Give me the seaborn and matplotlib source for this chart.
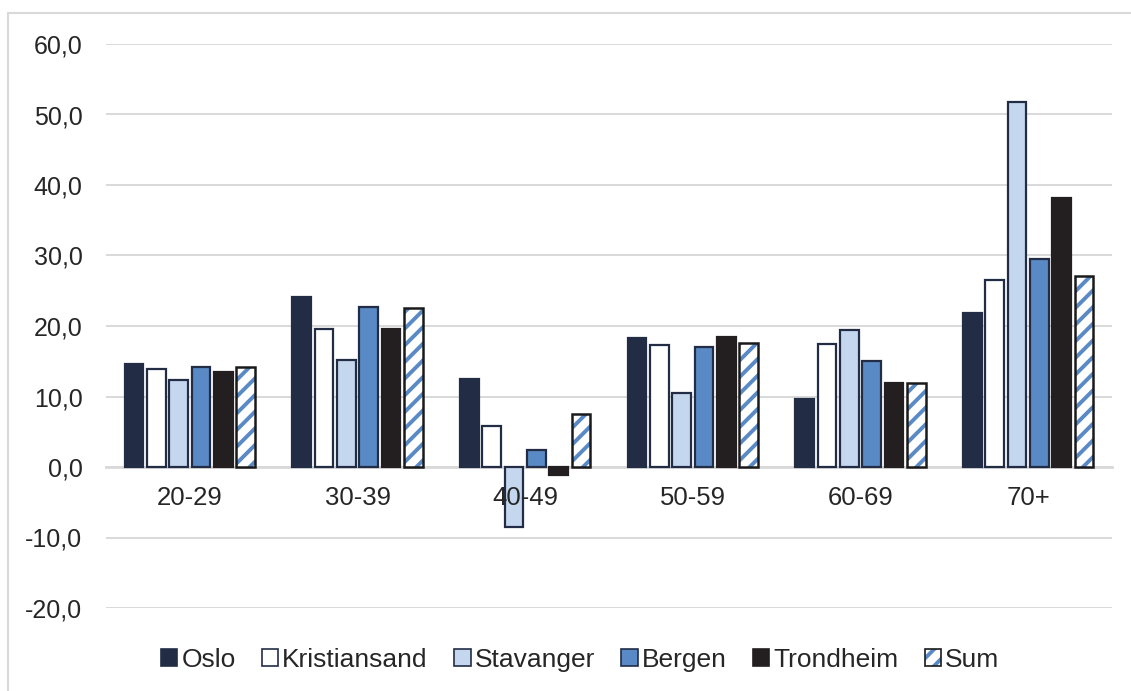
import matplotlib
matplotlib.use("Agg")
import matplotlib.pyplot as plt
from matplotlib.patches import Rectangle, Patch
from matplotlib.ticker import FuncFormatter
import seaborn as sns
import pandas as pd

# Age groups and cities
age_groups = ["20-29", "30-39", "40-49", "50-59", "60-69", "70+"]
cities = ["Oslo", "Kristiansand", "Stavanger", "Bergen", "Trondheim", "Sum"]

# Percentage change per age group for each city
oslo = [14.6, 24.1, 12.5, 18.3, 9.6, 21.8]
kristiansand = [13.9, 19.6, 5.8, 17.3, 17.4, 26.5]
stavanger = [12.3, 15.2, -8.5, 10.5, 19.4, 51.8]
bergen = [14.2, 22.7, 2.4, 17.0, 15.0, 29.5]
trondheim = [13.5, 19.6, -1.1, 18.4, 11.9, 38.2]
total = [14.2, 22.5, 7.5, 17.6, 11.9, 27.1]

series = [oslo, kristiansand, stavanger, bergen, trondheim, total]
rows = []
for city, vals in zip(cities, series):
    for grp, v in zip(age_groups, vals):
        rows.append({"Alder": grp, "By": city, "Verdi": v})
df = pd.DataFrame(rows)

navy = "#222d45"
stripe = "#5a8ac6"
fills = {"Oslo": navy, "Kristiansand": "#ffffff", "Stavanger": "#c5d7ee",
         "Bergen": "#5a8ac6", "Trondheim": "#231f20", "Sum": "#ffffff"}
edges = {"Oslo": navy, "Kristiansand": navy, "Stavanger": navy,
         "Bergen": navy, "Trondheim": "#231f20", "Sum": stripe}

sns.set_theme(style="white")
plt.rcParams["font.family"] = ["Liberation Sans", "DejaVu Sans"]
plt.rcParams["hatch.linewidth"] = 2.8
text_col = "#262626"

fig = plt.figure(figsize=(11.31, 6.91), dpi=100)
ax = fig.add_axes([106 / 1131, 1 - 608 / 691, (1112 - 106) / 1131, (608 - 44) / 691])

sns.barplot(data=df, x="Alder", y="Verdi", hue="By", order=age_groups,
            hue_order=cities, palette=fills, width=0.8, gap=0.16,
            ax=ax, legend=False, saturation=1)

for city, cont in zip(cities, ax.containers):
    for bar in cont:
        bar.set_edgecolor(edges[city])
        bar.set_linewidth(1.6)
        if city == "Sum":
            bar.set_hatch("//")
            bar.set_linewidth(0)
            ax.add_patch(Rectangle((bar.get_x(), bar.get_y()), bar.get_width(),
                                   bar.get_height(), facecolor="none",
                                   edgecolor="#1a1a1a", linewidth=1.8, zorder=3))

ax.set_ylim(-20, 60)
ax.set_yticks(range(-20, 61, 10))
ax.yaxis.set_major_formatter(FuncFormatter(lambda v, p: f"{v:.1f}".replace(".", ",")))
ax.grid(axis="y", color="#d9d9d9", linewidth=1.4)
ax.set_axisbelow(True)
ax.xaxis.set_zorder(5)  # category labels sit in front of negative bars
for s in ["left", "right", "top"]:
    ax.spines[s].set_visible(False)
ax.spines["bottom"].set_position(("data", 0))
ax.spines["bottom"].set_color("#d9d9d9")
ax.spines["bottom"].set_linewidth(2)
ax.spines["bottom"].set_zorder(0.5)
ax.tick_params(axis="both", length=0, colors=text_col)
ax.tick_params(axis="y", pad=17, labelsize=18)
ax.tick_params(axis="x", pad=14, labelsize=18.5)
ax.set_xlabel("")
ax.set_ylabel("")

handles = []
for city in cities:
    if city == "Sum":
        handles.append((Patch(facecolor="#ffffff", edgecolor=stripe, hatch="//",
                              linewidth=0),
                        Patch(facecolor="none", edgecolor="#1a1a1a", linewidth=1.2)))
    else:
        handles.append(Patch(facecolor=fills[city], edgecolor=edges[city],
                             linewidth=1.2))
leg = fig.legend(handles=handles, labels=cities, loc="center",
                 bbox_to_anchor=(0.513, 0.045), ncol=6, frameon=False,
                 fontsize=19, handlelength=0.62, handleheight=0.62,
                 handletextpad=0.15, columnspacing=1.0)
for t in leg.get_texts():
    t.set_color(text_col)

# Outer chart frame
fig.patches.append(Rectangle((8 / 1131, -0.05), 1.2, 1 - 13 / 691 + 0.05,
                             transform=fig.transFigure, facecolor="none",
                             edgecolor="#d9d9d9", linewidth=1.5))

fig.savefig("out.png", dpi=100)
